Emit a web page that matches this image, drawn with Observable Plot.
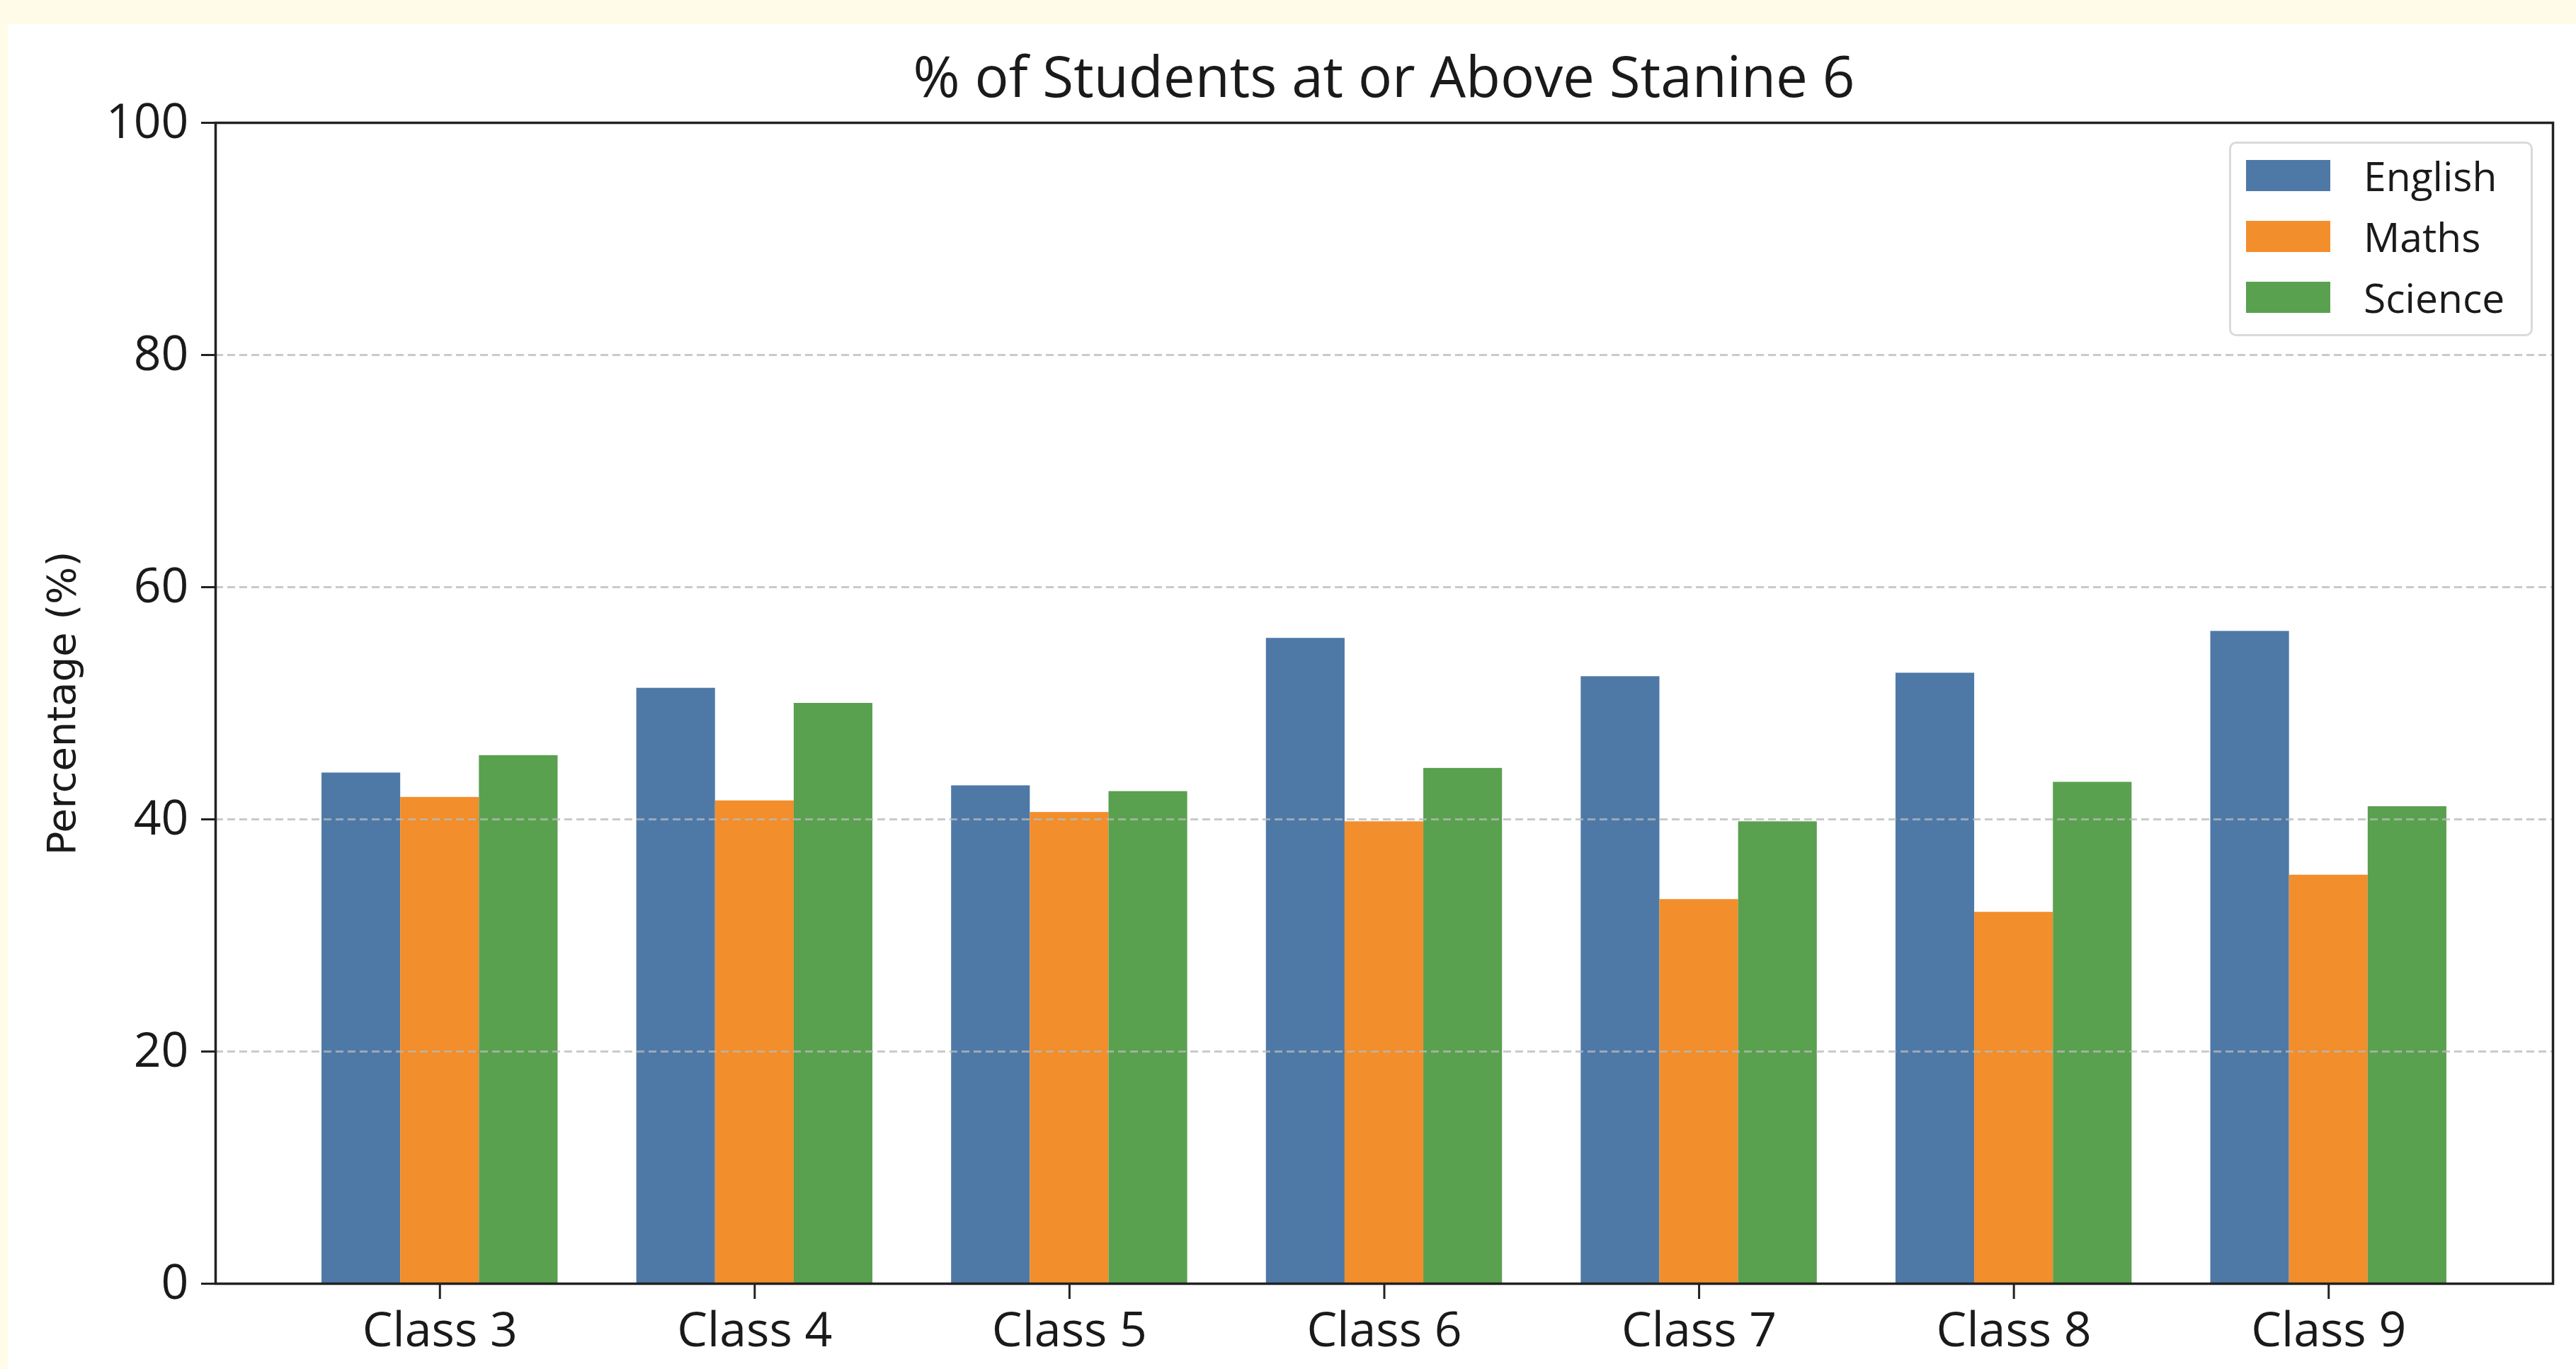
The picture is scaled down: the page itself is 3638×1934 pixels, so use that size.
<!DOCTYPE html>
<html><head><meta charset="utf-8">
<script src="https://cdn.jsdelivr.net/npm/d3@7"></script>
<script src="https://cdn.jsdelivr.net/npm/@observablehq/plot@0.6"></script>
<style>
html,body{margin:0;padding:0;background:#fffbe8;width:3638px;height:1934px;overflow:hidden;}
#card{position:absolute;left:11px;top:34px;width:3627px;height:1900px;background:#fff;}
#title{position:absolute;left:293px;width:3301px;top:32px;text-align:center;font-family:"Open Sans";font-size:80px;line-height:1;color:#1a1a1a;white-space:nowrap;}
#chart{position:absolute;left:0;top:0;}
#legend{position:absolute;left:3137px;top:166px;width:423px;height:267px;border:3px solid #dadada;border-radius:10px;background:rgba(255,255,255,0.85);box-sizing:content-box;padding-top:2px;}
.row{height:86px;display:flex;align-items:center;padding-left:21px;}
.sw{width:119px;height:44px;margin-right:47px;}
.lt{font-family:"Open Sans";font-size:57px;color:#1a1a1a;line-height:1;}
g[aria-label="y-axis label"] text{font-family:"DejaVu Sans";font-size:56px;}
</style>
</head><body>
<div id="card"><div id="chart"></div><div id="title"></div><div id="legend"></div></div>
<script>
const title = "% of Students at or Above Stanine 6";
const yLabel = "Percentage (%)";
const classes = ["Class 3","Class 4","Class 5","Class 6","Class 7","Class 8","Class 9"];
const subjects = ["English","Maths","Science"];
const colors = ["#4e79a7","#f28e2b","#59a14f"];
const english = [44.0, 51.3, 42.9, 55.6, 52.3, 52.6, 56.2];
const maths   = [41.9, 41.6, 40.6, 39.8, 33.1, 32.0, 35.2];
const science = [45.5, 50.0, 42.4, 44.4, 39.8, 43.2, 41.1];
const yTicks = [0, 20, 40, 60, 80, 100];
const gridTicks = [20, 40, 60, 80];

const series = [english, maths, science];
const barW = 0.25;
const rows = [];
classes.forEach((c, i) => subjects.forEach((s, k) => {
  const center = i + (k - 1) * barW;
  rows.push({cls: c, subject: s, x1: center - barW / 2, x2: center + barW / 2, value: series[k][i]});
}));
const n = classes.length;
const lo = -1.5 * barW, hi = (n - 1) + 1.5 * barW;
const pad = (hi - lo) * 0.05;

const chart = Plot.plot({
  width: 3620, height: 1900,
  marginLeft: 293, marginRight: 26, marginTop: 139, marginBottom: 121,
  style: {fontFamily: "Open Sans", fontSize: "68px", color: "#1a1a1a", background: "transparent", overflow: "visible"},
  x: {type: "linear", domain: [lo - pad, hi + pad]},
  y: {domain: [0, 100]},
  color: {domain: subjects, range: colors},
  marks: [
    Plot.rectY(rows, {x1: "x1", x2: "x2", y1: 0, y2: "value", fill: "subject"}),
    Plot.ruleY(gridTicks, {stroke: "#b8b8b8", strokeOpacity: 0.75, strokeWidth: 3, strokeDasharray: "11,6"}),
    Plot.axisX(d3.range(n), {tickFormat: i => classes[i], tickSize: 22, tickPadding: 18, strokeWidth: 3, stroke: "#222", label: null}),
    Plot.axisY(yTicks, {tickSize: 20, tickPadding: 18, strokeWidth: 3, stroke: "#222", label: yLabel, labelAnchor: "center", labelArrow: "none", labelOffset: 238}),
    Plot.frame({stroke: "#222", strokeWidth: 3.5})
  ]
});
document.getElementById("chart").appendChild(chart);
document.getElementById("title").textContent = title;
const leg = document.getElementById("legend");
subjects.forEach((s, k) => {
  const r = document.createElement("div"); r.className = "row";
  const sw = document.createElement("div"); sw.className = "sw"; sw.style.background = colors[k];
  const t = document.createElement("span"); t.className = "lt"; t.textContent = s;
  r.appendChild(sw); r.appendChild(t); leg.appendChild(r);
});
</script>
</body></html>
